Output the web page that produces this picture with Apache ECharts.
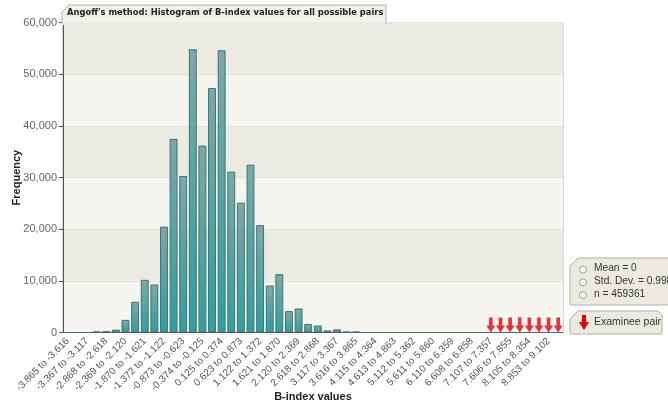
<!DOCTYPE html>
<html>
<head>
<meta charset="utf-8">
<script src="https://cdn.jsdelivr.net/npm/echarts@6/dist/echarts.min.js"></script>
<style>html,body{margin:0;padding:0;background:#fff}#c{width:668px;height:406px}</style>
</head>
<body>
<div id="c"></div>
<script>
var categories = [
 "-3.865 to -3.616","-3.616 to -3.367","-3.367 to -3.117","-3.117 to -2.868",
 "-2.868 to -2.618","-2.618 to -2.369","-2.369 to -2.120","-2.120 to -1.870",
 "-1.870 to -1.621","-1.621 to -1.372","-1.372 to -1.122","-1.122 to -0.873",
 "-0.873 to -0.623","-0.623 to -0.374","-0.374 to -0.125","-0.125 to 0.125",
 "0.125 to 0.374","0.374 to 0.623","0.623 to 0.873","0.873 to 1.122",
 "1.122 to 1.372","1.372 to 1.621","1.621 to 1.870","1.870 to 2.120",
 "2.120 to 2.369","2.369 to 2.618","2.618 to 2.868","2.868 to 3.117",
 "3.117 to 3.367","3.367 to 3.616","3.616 to 3.865","3.865 to 4.115",
 "4.115 to 4.364","4.364 to 4.613","4.613 to 4.863","4.863 to 5.112",
 "5.112 to 5.362","5.362 to 5.611","5.611 to 5.860","5.860 to 6.110",
 "6.110 to 6.359","6.359 to 6.608","6.608 to 6.858","6.858 to 7.107",
 "7.107 to 7.357","7.357 to 7.606","7.606 to 7.855","7.855 to 8.105",
 "8.105 to 8.354","8.354 to 8.604","8.853 to 9.102","9.102 to 9.351"
];
var frequency = [
 0, 0, 0, 200, 250, 550, 2450, 5950,
 10200, 9300, 20500, 37500, 30300, 54850, 36200, 47350,
 54650, 31150, 25150, 32500, 20800, 9100, 11300, 4150,
 4650, 1650, 1350, 400, 600, 180, 170, 0,
 0, 0, 0, 0, 0, 0, 0, 0,
 0, 0, 0, 0, 0, 0, 0, 0,
 0, 0, 0, 0
];
var examineePairs = [
 "7.107 to 7.357","7.357 to 7.606","7.606 to 7.855","7.855 to 8.105",
 "8.105 to 8.354","8.354 to 8.604","8.853 to 9.102","9.102 to 9.351"
];
var statsLines = ["Mean = 0", "Std. Dev. = 0.998", "n = 459361"];
var titleText = "Angoff's method: Histogram of B-index values for all possible pairs";

var arrowPath = 'path://M3,0 L7,0 L7,8 L10,8 L5,15 L0,8 L3,8 Z';

var chart = echarts.init(document.getElementById('c'), null, {renderer: 'canvas'});
var font = 'Liberation Sans, Arial, sans-serif';

var graphics = [
  {type:'polygon', z:100, shape:{points:[[62,12],[69,5],[386,5],[386,23.5],[62,23.5]]},
   style:{fill:'#f2f1e9', stroke:'#b3b2a9', lineWidth:1}},
  {type:'rect', z:101, shape:{x:62.5, y:22, width:323, height:3}, style:{fill:'#ecebe1'}},
  {type:'text', z:102, x:67, y:8.5, style:{text:titleText, font:'bold 9.3px "DejaVu Sans Condensed", "DejaVu Sans", sans-serif', fill:'#222'}},
  {type:'polygon', z:100, shape:{points:[[570,266],[578,258],[672,258],[672,305],[570,305]]},
   style:{fill:'#eceadf', stroke:'#b0afa6', lineWidth:1}},
  {type:'polygon', z:100, shape:{points:[[570,319],[578,311],[658,311],[662,315],[662,334],[570,334]]},
   style:{fill:'#eceadf', stroke:'#b0afa6', lineWidth:1}},
  {type:'polygon', z:101, shape:{points:[[582,315],[586,315],[586,322],[589,322],[584,330],[579,322],[582,322]]},
   style:{fill:'#e3000f'}},
  {type:'text', z:101, x:594, y:317, style:{text:'Examinee pair', font:'10.5px ' + font, fill:'#333'}}
];
statsLines.forEach(function(s, i){
  var cy = 269.5 + i * 12.8;
  graphics.push({type:'circle', z:101, shape:{cx:583, cy:cy, r:3.5}, style:{fill:'#fff', stroke:'#9a9a9a', lineWidth:1}});
  graphics.push({type:'text', z:101, x:594, y:cy - 6, style:{text:s, font:'10.2px ' + font, fill:'#333'}});
});

chart.setOption({
  animation: false,
  backgroundColor: '#fff',
  grid: {left: 63, right: 105, top: 22.7, bottom: 73.5, containLabel: false, outerBoundsMode: 'none',
         show: true, borderColor: '#b5b4ab', borderWidth: 1, backgroundColor: 'transparent'},
  xAxis: {
    type: 'category', data: categories,
    name: 'B-index values', nameLocation: 'middle', nameGap: 59, nameMoveOverlap: false,
    nameTextStyle: {fontFamily: font, fontWeight: 'bold', fontSize: 11, color: '#222'},
    axisLine: {lineStyle: {color: '#555'}},
    axisTick: {alignWithLabel: true, interval: 1, length: 4, lineStyle: {color: '#555'}},
    axisLabel: {interval: 1, rotate: 45, fontSize: 10, fontFamily: font, color: '#555', margin: 7}
  },
  yAxis: {
    type: 'value', min: 0, max: 60000, interval: 10000,
    name: 'Frequency', nameLocation: 'middle', nameGap: 41, nameMoveOverlap: false,
    nameTextStyle: {fontFamily: font, fontWeight: 'bold', fontSize: 11, color: '#222'},
    axisLine: {show: true, lineStyle: {color: '#555'}},
    axisTick: {show: true, length: 4, lineStyle: {color: '#555'}},
    axisLabel: {fontSize: 11, fontFamily: font, color: '#666', margin: 6,
      formatter: function(v){ return v.toString().replace(/\B(?=(\d{3})+(?!\d))/g, ','); }},
    splitLine: {show: true, lineStyle: {color: '#e3e2d9'}},
    splitArea: {show: true, areaStyle: {color: ['#f6f5ef', '#ecebe1']}}
  },
  series: [
    {type: 'bar', name: 'Frequency', data: frequency, barCategoryGap: '18%',
     itemStyle: {
       color: new echarts.graphic.LinearGradient(0, 0, 0, 1, [
         {offset: 0, color: '#7ea8a7'}, {offset: 1, color: '#2f9f9f'}]),
       borderColor: '#3b7474', borderWidth: 1
     }},
    {type: 'scatter', name: 'Examinee pair', z: 5,
     data: examineePairs.map(function(c){ return [c, 0]; }),
     symbol: arrowPath, symbolSize: [9, 15], symbolOffset: [0, '-50%'],
     itemStyle: {color: '#e3000f'}}
  ],
  graphic: graphics
});
</script>
</body>
</html>
